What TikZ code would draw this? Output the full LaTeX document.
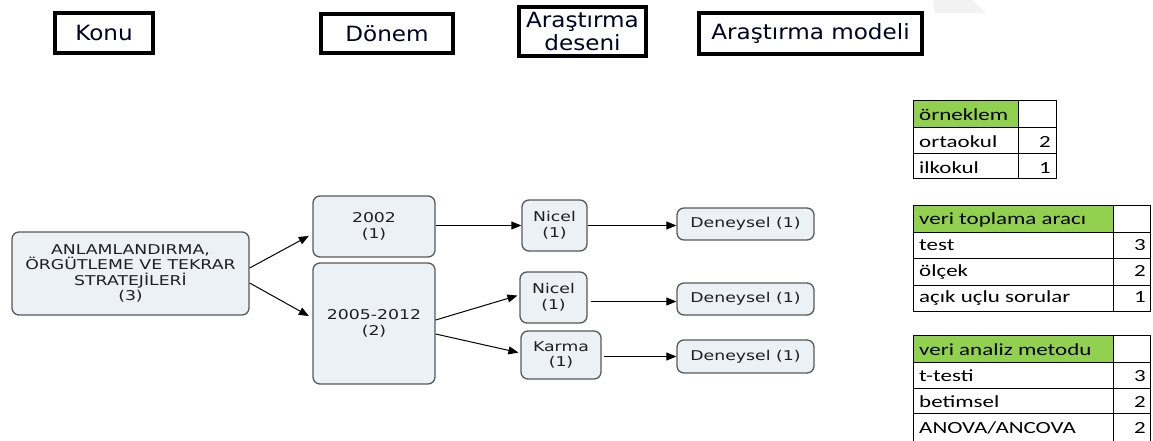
\documentclass[tikz,border=0pt]{standalone}
\usepackage{fontspec}
\usepackage{xcolor}
\usetikzlibrary{arrows.meta,calc}
\newfontfamily\flowfont[FakeStretch=1.28]{DejaVu Sans}
\newfontfamily\headfont[FakeStretch=1.1]{DejaVu Sans}
\newfontfamily\tabfont[FakeStretch=1.35]{Carlito}
\definecolor{nodefill}{HTML}{EBF1F5}
\definecolor{nodeline}{HTML}{595959}
\definecolor{headgreen}{HTML}{92D050}

\begin{document}
\begin{tikzpicture}[x=1pt, y=-1pt,
    flowbox/.style={draw=nodeline, line width=1.3pt, fill=nodefill, rounded corners=7pt, inner sep=0pt, align=center, text=black!88, font=\flowfont\fontsize{13.5pt}{15.5pt}\selectfont},
    headbox/.style={draw=black, line width=4pt, fill=white, inner sep=0pt, align=center, text=black!85!blue, font=\headfont\fontsize{21pt}{23pt}\selectfont},
    arr/.style={-{Triangle[length=10pt,width=8pt]}, line width=1pt},
    tabline/.style={line width=0.9pt},
    cell/.style={font=\tabfont\fontsize{17pt}{20pt}\selectfont, inner sep=0pt}]
    \useasboundingbox (0,0) rectangle (1153,441);
    \fill[black!5] (933,0) -- (972,0) -- (986,13) -- (935,13) -- cycle;

    % headers
    \node[headbox, minimum width=98, minimum height=40] (konu) at (104,33) {Konu};
    \node[headbox, minimum width=132, minimum height=39] (donem) at (387,33.5) {Dönem};
    \node[headbox, minimum width=127, minimum height=49] (desen) at (582.5,31.5) {Araştırma\\deseni};
    \node[headbox, minimum width=223, minimum height=41] (model) at (810.5,34) {Araştırma modeli};

    % topic and periods
    \node[flowbox, minimum width=237, minimum height=83] (konu3) at (130.5,273.5) {ANLAMLANDIRMA,\\ÖRGÜTLEME VE TEKRAR\\STRATEJİLERİ\\(3)};
    \node[flowbox, minimum width=122, minimum height=61] (y2002) at (374,226.5) {2002\\(1)};
    \node[flowbox, minimum width=122, minimum height=121] (y2005) at (374,323.5) {2005-2012\\(2)};

    % research designs
    \node[flowbox, minimum width=65, minimum height=51] (nicelA) at (554.5,225.5) {Nicel\\(1)};
    \node[flowbox, minimum width=67, minimum height=51] (nicelB) at (553.5,297.5) {Nicel\\(1)};
    \node[flowbox, minimum width=80, minimum height=48] (karma) at (561,355) {Karma\\(1)};

    % research models
    \node[flowbox, minimum width=137, minimum height=32] (denA) at (745.5,224) {Deneysel (1)};
    \node[flowbox, minimum width=137, minimum height=32] (denB) at (745.5,299) {Deneysel (1)};
    \node[flowbox, minimum width=137, minimum height=33] (denC) at (745.5,356.5) {Deneysel (1)};

    % connectors
    \draw[arr, shorten >=4pt] ([yshift=5.5pt]konu3.east) -- ([yshift=-7.5pt]y2002.west);
    \draw[arr, shorten >=4pt] ([yshift=-9.5pt]konu3.east) -- ([yshift=5.5pt]y2005.west);
    \draw[arr] (y2002.east |- nicelA.west) -- (nicelA.west);
    \draw[arr] (nicelA.east) -- (nicelA.east -| denA.west);
    \draw[arr, shorten >=2pt] ([yshift=3.5pt]y2005.east) -- ([yshift=2.5pt]nicelB.west);
    \draw[arr, shorten >=2pt] ([yshift=-10.5pt]y2005.east) -- ([yshift=2pt]karma.west);
    \draw[arr] ([xshift=3pt,yshift=-4pt]nicelB.east) -- ([yshift=-4pt]nicelB.east -| denB.west);
    \draw[arr] ([xshift=2pt]karma.east |- denC.west) -- (denC.west);

    % table: sample
    \fill[headgreen] (913,100) rectangle (1018,127);
    \draw[tabline] (913,100) rectangle (1056,178) (1018,100) -- (1018,178);
    \foreach \y in {127,153} \draw[tabline] (913,\y) -- (1056,\y);
    \node[cell, anchor=base west] (smp) at (919,121) {örneklem};
    \foreach \t/\v/\b [count=\i] in {ortaokul/2/147, ilkokul/1/173} {
        \node[cell, anchor=base west] (smp\i) at (919,\b) {\t};
        \node[cell, anchor=base east] (smpv\i) at (1051,\b) {\v};
    }

    % table: data collection tool
    \fill[headgreen] (913,205) rectangle (1113,232);
    \draw[tabline] (913,205) rectangle (1150,311) (1113,205) -- (1113,311);
    \foreach \y in {232,258,285} \draw[tabline] (913,\y) -- (1150,\y);
    \node[cell, anchor=base west] (tool) at (919,224) {veri toplama aracı};
    \foreach \t/\v/\b [count=\i] in {test/3/250, ölçek/2/276, açık uçlu sorular/1/302} {
        \node[cell, anchor=base west] (tool\i) at (919,\b) {\t};
        \node[cell, anchor=base east] (toolv\i) at (1146,\b) {\v};
    }

    % table: data analysis method
    \fill[headgreen] (913,335) rectangle (1113,362);
    \draw[tabline] (913,335) rectangle (1150,444) (1113,335) -- (1113,444);
    \foreach \y in {362,388,413} \draw[tabline] (913,\y) -- (1150,\y);
    \node[cell, anchor=base west] (meth) at (919,355) {veri analiz metodu};
    \foreach \t/\v/\b [count=\i] in {t-testi/3/381, betimsel/2/407, {ANOVA/ANCOVA}/2/433} {
        \node[cell, anchor=base west] (meth\i) at (919,\b) {\t};
        \node[cell, anchor=base east] (methv\i) at (1146,\b) {\v};
    }
\end{tikzpicture}
\end{document}
